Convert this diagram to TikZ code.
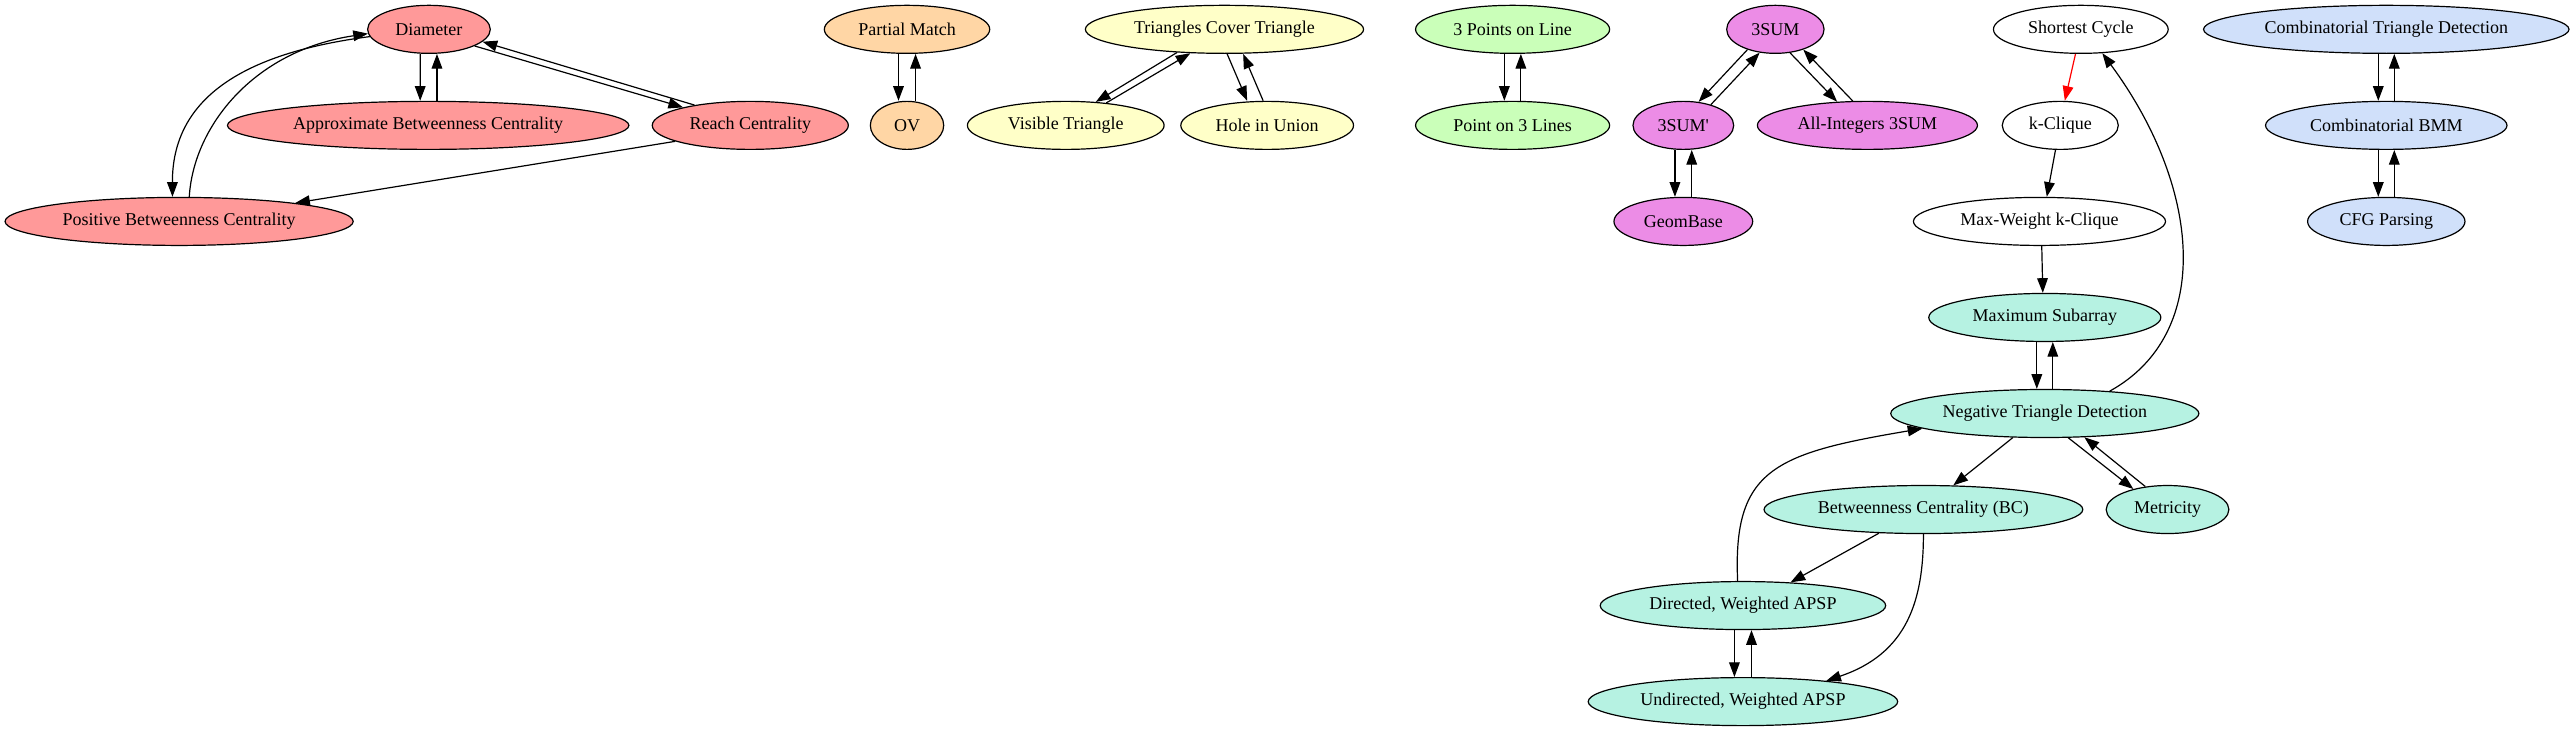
\documentclass[tikz,border=0pt]{standalone}
\usepackage{fontspec}
\setmainfont{Liberation Serif}
\usetikzlibrary{shapes.geometric,arrows.meta}
\definecolor{cred}{RGB}{255,153,153}
\definecolor{corange}{RGB}{255,214,165}
\definecolor{cyellow}{RGB}{255,255,200}
\definecolor{cgreen}{RGB}{202,255,185}
\definecolor{cviolet}{RGB}{236,140,230}
\definecolor{cmint}{RGB}{182,242,226}
\definecolor{cblue}{RGB}{208,224,250}
\tikzset{
  gnode/.style={ellipse, draw=black, line width=0.9pt, inner sep=0pt, minimum height=36pt, font=\fontsize{13.5}{16}\selectfont},
  e/.style={-{Triangle[length=11pt,width=8pt]}, line width=0.9pt}
}
\begin{document}
\begin{tikzpicture}[x=1pt,y=-1pt]
\path[fill=white,use as bounding box] (0,0) rectangle (1929,548);
% nodes
\node[gnode, fill=cred, minimum width=92pt]  (dia)   at (321.6,22) {Diameter};
\node[gnode, fill=cred, minimum width=301pt] (abc)   at (321,94)   {Approximate Betweenness Centrality};
\node[gnode, fill=cred, minimum width=147pt] (reach) at (562.5,94) {Reach Centrality};
\node[gnode, fill=cred, minimum width=261pt] (pbc)   at (134.3,166) {Positive Betweenness Centrality};
\node[gnode, fill=corange, minimum width=124pt] (pm) at (680,22) {Partial Match};
\node[gnode, fill=corange, minimum width=55pt]  (ov) at (680,94) {OV};
\node[gnode, fill=cyellow, minimum width=208.6pt] (tct) at (918,22) {Triangles Cover Triangle};
\node[gnode, fill=cyellow, minimum width=147.5pt] (vt)  at (799,94) {Visible Triangle};
\node[gnode, fill=cyellow, minimum width=129.5pt] (hiu) at (950,94) {Hole in Union};
\node[gnode, fill=cgreen, minimum width=145.5pt] (tpl) at (1134,22) {3 Points on Line};
\node[gnode, fill=cgreen, minimum width=145.5pt] (pol) at (1134,94) {Point on 3 Lines};
\node[gnode, fill=cviolet, minimum width=73pt]   (tsum)  at (1331,22) {3SUM};
\node[gnode, fill=cviolet, minimum width=75.5pt] (tsump) at (1262,94) {3SUM\textquotesingle};
\node[gnode, fill=cviolet, minimum width=165pt]  (ai)    at (1400,94) {All-Integers 3SUM};
\node[gnode, fill=cviolet, minimum width=104pt]  (geom)  at (1262,166) {GeomBase};
\node[gnode, fill=white, minimum width=131pt] (sc)   at (1560,22) {Shortest Cycle};
\node[gnode, fill=white, minimum width=87pt]  (kc)   at (1544.6,94) {k-Clique};
\node[gnode, fill=white, minimum width=189pt] (mwkc) at (1529,166) {Max-Weight k-Clique};
\node[gnode, fill=cmint, minimum width=174pt] (maxsub) at (1533,238) {Maximum Subarray};
\node[gnode, fill=cmint, minimum width=231pt] (ntd)    at (1533,310) {Negative Triangle Detection};
\node[gnode, fill=cmint, minimum width=239pt] (bc)     at (1442,382) {Betweenness Centrality (BC)};
\node[gnode, fill=cmint, minimum width=92pt]  (met)    at (1625,382) {Metricity};
\node[gnode, fill=cmint, minimum width=214pt] (dapsp)  at (1306.7,454) {Directed, Weighted APSP};
\node[gnode, fill=cmint, minimum width=232pt] (uapsp)  at (1306.7,526) {Undirected, Weighted APSP};
\node[gnode, fill=cblue, minimum width=274pt] (ctd)  at (1789,22) {Combinatorial Triangle Detection};
\node[gnode, fill=cblue, minimum width=181pt] (cbmm) at (1789,94) {Combinatorial BMM};
\node[gnode, fill=cblue, minimum width=118pt] (cfg)  at (1789,166) {CFG Parsing};
% edges
\draw[e] ([xshift=-6.5pt]dia.south) -- ([xshift=-6pt]abc.north);
\draw[e] ([xshift=6.6pt]abc.north) -- ([xshift=6pt]dia.south);
\draw[e] (dia.-20) -- (reach.165);
\draw[e] (reach.160) -- (dia.-13);
\draw[e] (dia.187) .. controls (180,40) and (129,75) .. ([xshift=-5pt]pbc.north);
\draw[e] ([xshift=7.6pt]pbc.north) .. controls (145,95) and (190,38) .. (dia.184);
\draw[e] (reach.192) -- (pbc.9);
\draw[e] ([xshift=-6.4pt]pm.south) -- ([xshift=-6.4pt]ov.north);
\draw[e] ([xshift=6.4pt]ov.north) -- ([xshift=6.4pt]pm.south);
\draw[e] (tct.206) -- (vt.38);
\draw[e] (vt.29) -- (tct.215);
\draw[e] ([xshift=2pt]tct.south) -- ([xshift=-15pt]hiu.north);
\draw[e] ([xshift=-3pt]hiu.north) -- ([xshift=14pt]tct.south);
\draw[e] ([xshift=-6.2pt]tpl.south) -- ([xshift=-6.2pt]pol.north);
\draw[e] ([xshift=6.2pt]pol.north) -- ([xshift=6.2pt]tpl.south);
\draw[e] (tsum.216) -- (tsump.57);
\draw[e] (tsump.37) -- (tsum.236);
\draw[e] (tsum.-58) -- (ai.142);
\draw[e] (ai.121) -- (tsum.-36);
\draw[e] ([xshift=-6.3pt]tsump.south) -- ([xshift=-6.3pt]geom.north);
\draw[e] ([xshift=6.3pt]geom.north) -- ([xshift=6.3pt]tsump.south);
\draw[e, red] ([xshift=-4pt]sc.south) -- ([xshift=3.4pt]kc.north);
\draw[e] ([xshift=-3.6pt]kc.south) -- ([xshift=5.5pt]mwkc.north);
\draw[e] ([xshift=1.7pt]mwkc.south) -- ([xshift=-1.5pt]maxsub.north);
\draw[e] ([xshift=-6pt]maxsub.south) -- ([xshift=-6pt]ntd.north);
\draw[e] ([xshift=6pt]ntd.north) -- ([xshift=6pt]maxsub.south);
\draw[e] (ntd.19) .. controls (1660,250) and (1650,140) .. (sc.-48);
\draw[e] (ntd.217) -- (bc.39);
\draw[e] (ntd.-46) -- (met.149);
\draw[e] (met.134) -- (ntd.-31);
\draw[e] (bc.208) -- (dapsp.26);
\draw[e] (bc.south) .. controls (1442,450) and (1430,490) .. (uapsp.14);
\draw[e] ([xshift=-4pt]dapsp.north) .. controls (1299,352) and (1330,340) .. (ntd.187);
\draw[e] ([xshift=-6.4pt]dapsp.south) -- ([xshift=-6.4pt]uapsp.north);
\draw[e] ([xshift=6.4pt]uapsp.north) -- ([xshift=6.4pt]dapsp.south);
\draw[e] ([xshift=-6pt]ctd.south) -- ([xshift=-6pt]cbmm.north);
\draw[e] ([xshift=6pt]cbmm.north) -- ([xshift=6pt]ctd.south);
\draw[e] ([xshift=-6pt]cbmm.south) -- ([xshift=-6pt]cfg.north);
\draw[e] ([xshift=6pt]cfg.north) -- ([xshift=6pt]cbmm.south);
\end{tikzpicture}
\end{document}
